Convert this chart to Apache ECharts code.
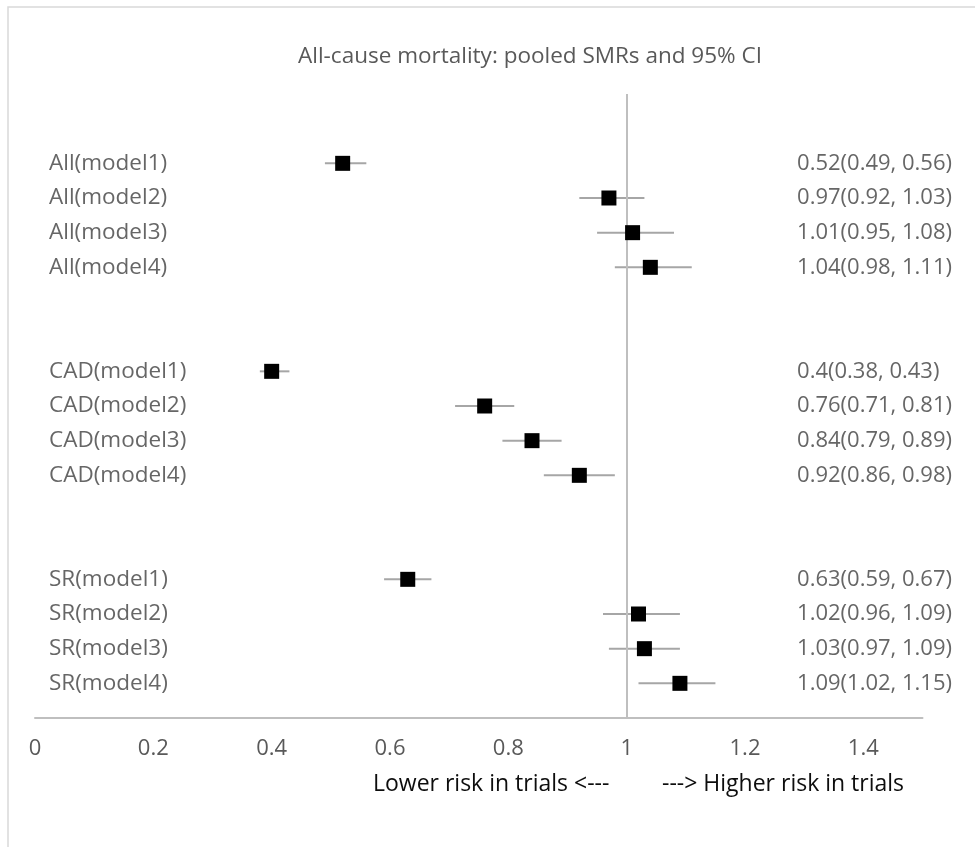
<!DOCTYPE html>
<html>
<head>
<meta charset="utf-8">
<script src="https://cdn.jsdelivr.net/npm/echarts@6/dist/echarts.min.js"></script>
<style>
  html, body { margin: 0; padding: 0; background: #fff; }
  #chart { width: 975px; height: 847px; }
</style>
</head>
<body>
<div id="chart"></div>
<script>
// ---- data ----
const categories = [
  'All(model1)', 'All(model2)', 'All(model3)', 'All(model4)',
  'CAD(model1)', 'CAD(model2)', 'CAD(model3)', 'CAD(model4)',
  'SR(model1)', 'SR(model2)', 'SR(model3)', 'SR(model4)'
];
const rowY  = [16, 15, 14, 13, 10, 9, 8, 7, 4, 3, 2, 1];
const smr   = [0.52, 0.97, 1.01, 1.04, 0.4, 0.76, 0.84, 0.92, 0.63, 1.02, 1.03, 1.09];
const ciLow = [0.49, 0.92, 0.95, 0.98, 0.38, 0.71, 0.79, 0.86, 0.59, 0.96, 0.97, 1.02];
const ciHigh= [0.56, 1.03, 1.08, 1.11, 0.43, 0.81, 0.89, 0.98, 0.67, 1.09, 1.09, 1.15];
const xTicks = [0, 0.2, 0.4, 0.6, 0.8, 1, 1.2, 1.4];
const titleText = 'All-cause mortality: pooled SMRs and 95% CI';
const lowerText = 'Lower risk in trials <---';
const higherText = '---> Higher risk in trials';

// ---- build ----
const FONT = '"Segoe UI", "Open Sans", "Noto Sans", sans-serif';
const NAME_X = 0;
const VALUE_X = 1.288;

const pointData = smr.map((v, i) => [v, rowY[i]]);
const ciData = smr.map((v, i) => [ciLow[i], ciHigh[i], rowY[i]]);
const nameData = categories.map((c, i) => ({ value: [NAME_X, rowY[i]], name: c }));
const valueData = smr.map((v, i) => ({
  value: [VALUE_X, rowY[i]],
  name: String(v) + '(' + String(ciLow[i]) + ', ' + String(ciHigh[i]) + ')'
}));

const chart = echarts.init(document.getElementById('chart'));
chart.setOption({
  animation: false,
  backgroundColor: '#fff',
  title: {
    text: titleText,
    left: 525,
    top: 40,
    textAlign: 'center',
    textStyle: { fontFamily: FONT, fontSize: 22.5, fontWeight: 'normal', color: '#595959' }
  },
  graphic: [
    { type: 'rect', silent: true, z: -1,
      shape: { x: 8, y: 7, width: 2000, height: 2000 },
      style: { fill: 'none', stroke: '#d9d9d9', lineWidth: 1.5 } },
    { type: 'text', left: 373, top: 773,
      style: { text: lowerText, font: '23px ' + FONT, fill: '#0d0d0d' } },
    { type: 'text', left: 662, top: 773,
      style: { text: higherText, font: '23px ' + FONT, fill: '#0d0d0d' } }
  ],
  grid: { left: 35, right: 52.5, top: 94, bottom: 129, containLabel: false },
  xAxis: {
    type: 'value', min: 0, max: 1.5, interval: 0.2,
    axisLine: { show: true, onZero: true, lineStyle: { color: '#bfbfbf', width: 2 } },
    axisTick: { show: false },
    splitLine: { show: false },
    axisLabel: {
      showMaxLabel: false,
      margin: 20,
      fontFamily: FONT, fontSize: 22, color: '#595959',
      formatter: v => (xTicks.some(t => Math.abs(t - v) < 1e-9) ? String(+v.toFixed(2)) : '')
    }
  },
  yAxis: {
    type: 'value', min: 0, max: 18, show: false
  },
  series: [
    {
      type: 'line', data: [], silent: true,
      markLine: {
        symbol: 'none', silent: true, label: { show: false },
        lineStyle: { color: '#bfbfbf', width: 2, type: 'solid' },
        data: [{ xAxis: 1 }]
      }
    },
    {
      type: 'custom', data: ciData, silent: true, z: 3,
      renderItem: (params, api) => {
        const a = api.coord([api.value(0), api.value(2)]);
        const b = api.coord([api.value(1), api.value(2)]);
        return { type: 'line', shape: { x1: a[0], y1: a[1], x2: b[0], y2: b[1] },
                 style: { stroke: '#a6a6a6', lineWidth: 2 } };
      }
    },
    {
      type: 'scatter', data: pointData, symbol: 'rect', symbolSize: 15, z: 5,
      itemStyle: { color: '#000', opacity: 1 }
    },
    {
      type: 'scatter', data: nameData, symbolSize: 0, silent: true,
      label: { show: true, position: 'right', distance: 14, formatter: p => p.name,
               fontFamily: FONT, fontSize: 22.5, color: '#404040' }
    },
    {
      type: 'scatter', data: valueData, symbolSize: 0, silent: true,
      label: { show: true, position: 'right', distance: 0, formatter: p => p.name,
               fontFamily: FONT, fontSize: 22, color: '#404040' }
    }
  ]
});
</script>
</body>
</html>
